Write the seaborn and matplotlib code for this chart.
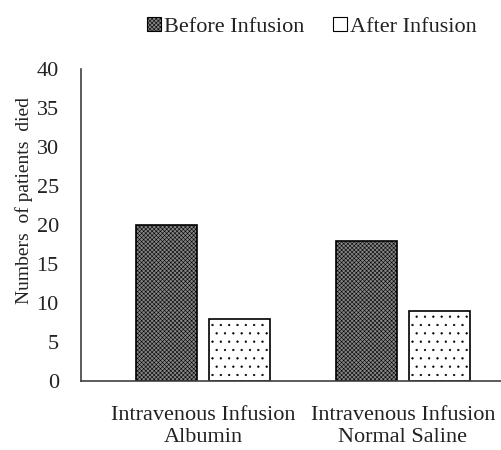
import matplotlib
matplotlib.use("Agg")
import matplotlib.pyplot as plt
import seaborn as sns
import pandas as pd
from matplotlib.patches import Patch

groups = ["Intravenous Infusion\nAlbumin", "Intravenous Infusion\nNormal Saline"]
before = [20, 18]
after = [8, 9]
series = ["Before Infusion", "After Infusion"]

df = pd.DataFrame({
    "group": groups * 2,
    "value": before + after,
    "series": [series[0]] * 2 + [series[1]] * 2,
})

sns.set_style("white")
plt.rcParams["font.family"] = ["Liberation Serif", "DejaVu Serif"]
plt.rcParams["hatch.linewidth"] = 0.4

fig = plt.figure(figsize=(5.02, 4.5), dpi=100)
ax = fig.add_axes([81 / 502, 1 - 381 / 450, 1 - 81 / 502, (381 - 69) / 450])

sns.barplot(data=df, x="group", y="value", hue="series", hue_order=series,
            width=0.73, gap=0.16, palette=["#858585", "white"],
            edgecolor="black", linewidth=1.2, ax=ax, legend=False)

hatches = {series[0]: "xxxxxxxx", series[1]: ".."}
for cont, name in zip(ax.containers, series):
    for bar in cont:
        bar.set_hatch(hatches[name])

ax.set_xlim(-0.61, 1.495)
ax.set_ylim(0, 40)
ax.set_yticks(range(0, 41, 5))
ax.tick_params(axis="both", length=0, labelsize=16, colors="#222222")
ax.tick_params(axis="x", pad=18)
ax.tick_params(axis="y", pad=16)
ax.set_xlabel("")
ax.set_ylabel("Numbers  of patients  died", fontsize=14, color="#222222")
ax.yaxis.set_label_coords(-0.115, 0.577)
for s in ["top", "right"]:
    ax.spines[s].set_visible(False)
for s in ["left", "bottom"]:
    ax.spines[s].set_color("#404040")
    ax.spines[s].set_linewidth(1.2)

handles = [Patch(facecolor="#858585", edgecolor="black", hatch="xxxxxxxx", linewidth=0.8),
           Patch(facecolor="white", edgecolor="black", linewidth=0.8)]
fig.legend(handles, series, loc="center", bbox_to_anchor=(312 / 502, 1 - 27 / 450),
           ncol=2, frameon=False, fontsize=16, handlelength=0.6, handleheight=0.6,
           handletextpad=0.15, columnspacing=1.3, labelcolor="#222222")

fig.savefig("out.png", dpi=100)
